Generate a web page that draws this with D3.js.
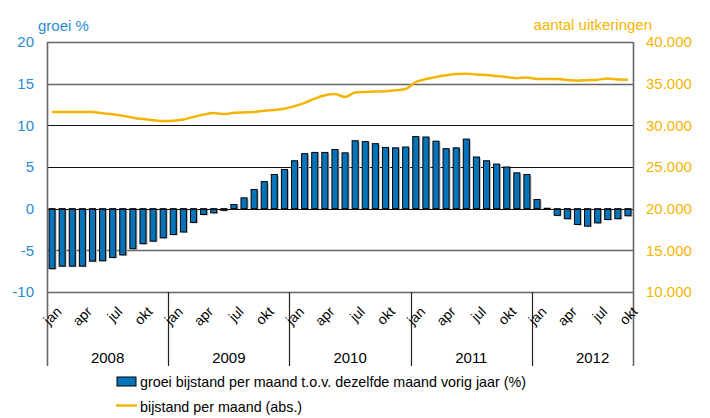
<!DOCTYPE html>
<html>
<head>
<meta charset="utf-8">
<script src="https://cdn.jsdelivr.net/npm/d3@7"></script>
<style>
  body { margin: 0; background: #fff; }
  svg { font-family: "Liberation Sans", Arial, sans-serif; }
</style>
</head>
<body>
<svg id="chart" width="710" height="418"></svg>
<script>
const years = ["2008", "2009", "2010", "2011", "2012"];
const monthNames = ["jan", "feb", "mrt", "apr", "mei", "jun", "jul", "aug", "sep", "okt", "nov", "dec"];
const shownMonths = ["jan", "apr", "jul", "okt"];

// groei bijstand per maand t.o.v. dezelfde maand vorig jaar (%)
const growth = [
  -7.2, -6.9, -6.9, -6.9, -6.3, -6.25, -5.85, -5.55, -4.8, -4.2, -3.9, -3.5,
  -3.1, -2.8, -1.65, -0.7, -0.5, -0.2, 0.5, 1.3, 2.3, 3.25, 4.1, 4.7,
  5.75, 6.6, 6.75, 6.75, 7.1, 6.7, 8.15, 8.05, 7.8, 7.35, 7.3, 7.4,
  8.65, 8.6, 8.1, 7.2, 7.3, 8.35, 6.2, 5.75, 5.35, 5.0, 4.3, 4.1,
  1.1, 0.05, -0.8, -1.2, -1.9, -2.1, -1.7, -1.3, -1.2, -0.85
];

// bijstand per maand (abs.)
const uitkeringen = [
  31600, 31600, 31600, 31600, 31600, 31450, 31330, 31150, 30920, 30750, 30620, 30520,
  30550, 30700, 31000, 31300, 31480, 31350, 31500, 31550, 31600, 31750, 31850, 32000,
  32300, 32700, 33200, 33600, 33760, 33400, 33950, 34000, 34050, 34080, 34200, 34350,
  35200, 35550, 35800, 36000, 36150, 36200, 36100, 36040, 35920, 35800, 35650, 35750,
  35560, 35560, 35560, 35450, 35360, 35420, 35480, 35620, 35500, 35480
];

const leftTicks = [-10, -5, 0, 5, 10, 15, 20];
const rightTicks = [10000, 15000, 20000, 25000, 30000, 35000, 40000];

const months = [];
years.forEach(y => {
  monthNames.forEach(m => months.push({ year: y, month: m, key: y + "-" + m }));
});
const data = growth.map((g, i) => ({
  key: months[i].key, year: months[i].year, month: months[i].month,
  growth: g, abs: uitkeringen[i]
}));

const svg = d3.select("#chart");
const plotL = 47, plotR = 633, plotT = 42, plotB = 292;
const blue = "#2a8bd2", orange = "#f5b400", barBlue = "#0773bb";

const x = d3.scaleBand()
  .domain(data.map(d => d.key))
  .range([plotL, plotR])
  .paddingInner(0.4)
  .paddingOuter(0.2);
const yL = d3.scaleLinear().domain([-10, 20]).range([plotB, plotT]);
const yR = d3.scaleLinear().domain([10000, 40000]).range([plotB, plotT]);
const step = x.step();

// gridlines
svg.append("g").selectAll("line")
  .data(leftTicks)
  .join("line")
  .attr("x1", plotL).attr("x2", plotR)
  .attr("y1", d => Math.round(yL(d)) + 0.5)
  .attr("y2", d => Math.round(yL(d)) + 0.5)
  .attr("stroke", d => (d >= 0 && d <= 10) ? "#111" : "#666")
  .attr("stroke-width", d => (d >= 0 && d <= 10) ? 1.2 : 1.6);

// bars with a soft shadow
svg.append("g").selectAll("rect")
  .data(data)
  .join("rect")
  .attr("x", d => x(d.key) + 1.5)
  .attr("y", d => Math.min(yL(d.growth), yL(0)) + 1)
  .attr("width", x.bandwidth())
  .attr("height", d => Math.abs(yL(d.growth) - yL(0)))
  .attr("fill", "#bbb");

svg.append("g").selectAll("rect")
  .data(data)
  .join("rect")
  .attr("x", d => x(d.key))
  .attr("y", d => Math.min(yL(d.growth), yL(0)))
  .attr("width", x.bandwidth())
  .attr("height", d => Math.abs(yL(d.growth) - yL(0)))
  .attr("fill", barBlue)
  .attr("stroke", "#000")
  .attr("stroke-width", 1);

// zero line on top
svg.append("line")
  .attr("x1", plotL).attr("x2", plotR)
  .attr("y1", Math.round(yL(0)) + 0.5).attr("y2", Math.round(yL(0)) + 0.5)
  .attr("stroke", "#111").attr("stroke-width", 1.2);

// line series
const line = d3.line()
  .x(d => x(d.key) + x.bandwidth() / 2)
  .y(d => yR(d.abs))
  .curve(d3.curveMonotoneX);
svg.append("path")
  .datum(data)
  .attr("d", line)
  .attr("fill", "none")
  .attr("stroke", orange)
  .attr("stroke-width", 2.5);

// vertical axes + year separators
const axisBottom = 366;
const yearX = years.map((y, i) => plotL + i * 12 * step);
svg.append("g").selectAll("line")
  .data(yearX.slice(1))
  .join("line")
  .attr("x1", d => Math.round(d) + 0.5).attr("x2", d => Math.round(d) + 0.5)
  .attr("y1", plotB).attr("y2", axisBottom)
  .attr("stroke", "#222").attr("stroke-width", 1.2);

[plotL, plotR].forEach(px => {
  svg.append("line")
    .attr("x1", px + 0.5).attr("x2", px + 0.5)
    .attr("y1", plotT).attr("y2", axisBottom)
    .attr("stroke", "#666").attr("stroke-width", 1.6);
});

// left ticks
svg.append("g").selectAll("text")
  .data(leftTicks)
  .join("text")
  .attr("x", 34).attr("y", d => yL(d))
  .attr("dy", "0.36em")
  .attr("text-anchor", "end")
  .attr("fill", blue)
  .attr("font-size", 15)
  .text(d => d);

svg.append("text")
  .attr("x", 38).attr("y", 31)
  .attr("fill", blue).attr("font-size", 15)
  .text("groei %");

// right ticks
const fmt = d => d3.format(",")(d).replace(/,/g, ".");
svg.append("g").selectAll("text")
  .data(rightTicks)
  .join("text")
  .attr("x", 646).attr("y", d => yR(d))
  .attr("dy", "0.36em")
  .attr("fill", orange)
  .attr("font-size", 15)
  .text(fmt);

svg.append("text")
  .attr("x", 652).attr("y", 30)
  .attr("text-anchor", "end")
  .attr("fill", orange).attr("font-size", 15)
  .text("aantal uitkeringen");

// month labels
svg.append("g").selectAll("text")
  .data(data.filter(d => shownMonths.includes(d.month)))
  .join("text")
  .attr("transform", d => `translate(${x(d.key) + x.bandwidth() / 2 + 7},${plotB + 17}) rotate(-45)`)
  .attr("text-anchor", "end")
  .attr("dy", "0.35em")
  .attr("font-size", 14)
  .attr("fill", "#000")
  .text(d => d.month);

// year labels
svg.append("g").selectAll("text")
  .data(years)
  .join("text")
  .attr("x", (d, i) => plotL + (i * 12 + 6) * step)
  .attr("y", 363)
  .attr("text-anchor", "middle")
  .attr("font-size", 15)
  .text(d => d);

// legend
const lg = svg.append("g");
lg.append("rect")
  .attr("x", 117).attr("y", 377).attr("width", 19).attr("height", 9)
  .attr("fill", barBlue).attr("stroke", "#000");
lg.append("text")
  .attr("x", 140).attr("y", 387).attr("font-size", 14.3)
  .text("groei bijstand per maand t.o.v. dezelfde maand vorig jaar (%)");
lg.append("line")
  .attr("x1", 116).attr("x2", 137).attr("y1", 405.5).attr("y2", 405.5)
  .attr("stroke", orange).attr("stroke-width", 2.5);
lg.append("text")
  .attr("x", 140).attr("y", 412).attr("font-size", 14.3)
  .text("bijstand per maand (abs.)");
</script>
</body>
</html>
